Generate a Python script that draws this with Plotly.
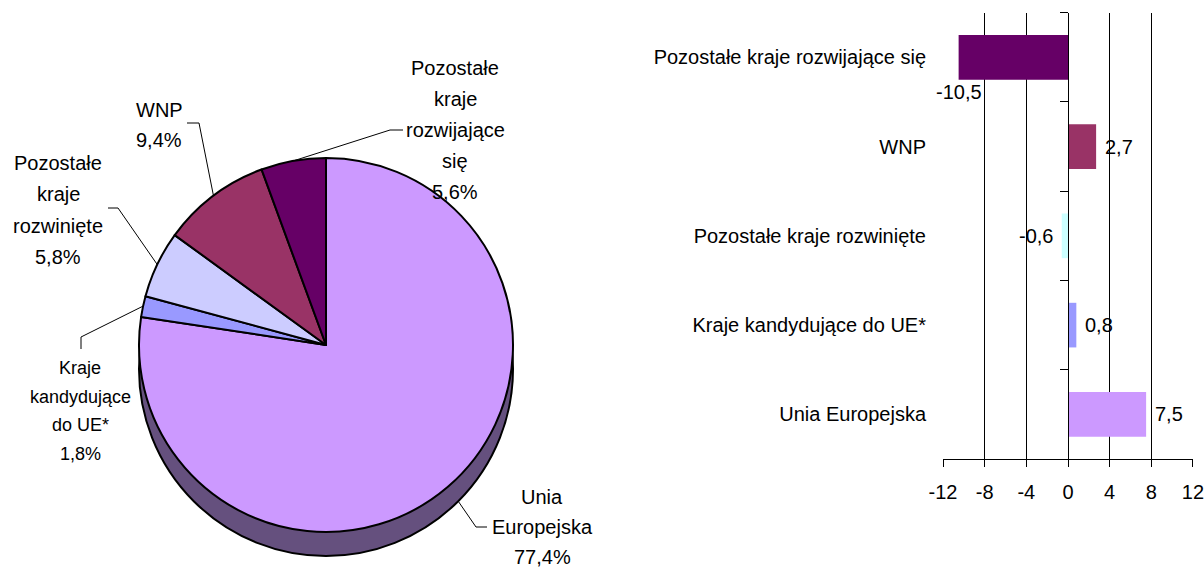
import math
import plotly.graph_objects as go

# ---------------- data ----------------
pie_categories = ["Unia Europejska", "Kraje kandydujące do UE*", "Pozostałe kraje rozwinięte",
                  "WNP", "Pozostałe kraje rozwijające się"]
pie_label_text = ["Unia<br>Europejska", "Kraje<br>kandydujące<br>do UE*", "Pozostałe<br>kraje<br>rozwinięte",
                  "WNP", "Pozostałe<br>kraje<br>rozwijające<br>się"]
pie_shares = [77.4, 1.8, 5.8, 9.4, 5.6]
pie_colors = ["#CC99FF", "#9999FF", "#CCCCFF", "#993366", "#660066"]

# bottom -> top
bar_categories = ["Unia Europejska", "Kraje kandydujące do UE*", "Pozostałe kraje rozwinięte",
                  "WNP", "Pozostałe kraje rozwijające się"]
bar_values = [7.5, 0.8, -0.6, 2.7, -10.5]
bar_colors = ["#CC99FF", "#9999FF", "#CCFFFF", "#993366", "#660066"]

x_tickvals = [-12, -8, -4, 0, 4, 8, 12]
x_ticktext = ["-12", "-8", "-4", "0", "4", "8", "12"]

# ---------------- layout helpers ----------------
W, H = 1204, 567
FONT = "Liberation Sans, Arial, sans-serif"
FS = 20


def px(x):
    return x / W


def py(y):
    return 1 - y / H


def fmt(v):
    return f"{v:.1f}".replace(".", ",")


# pie geometry (pixels)
CX, CY, R, DEPTH = 326, 345, 187, 24

fig = go.Figure()

# 3D side of the pie (darker disc shifted down)
fig.add_trace(go.Pie(
    values=[1], labels=["side"], sort=False, textinfo="none", hoverinfo="skip",
    marker=dict(colors=["#65507E"], line=dict(color="#000000", width=2)),
    domain=dict(x=[px(CX - R), px(CX + R)], y=[py(CY + R + DEPTH), py(CY - R + DEPTH)]),
    showlegend=False,
))

fig.add_trace(go.Pie(
    values=pie_shares, labels=pie_categories, sort=False, direction="clockwise", rotation=0,
    textinfo="none", hoverinfo="label+percent",
    marker=dict(colors=pie_colors, line=dict(color="#000000", width=2)),
    domain=dict(x=[px(CX - R), px(CX + R)], y=[py(CY + R), py(CY - R)]),
    showlegend=False,
))

# pie labels: (center x, first line y, line pitch, font size)
label_pos = {
    "Pozostałe kraje rozwijające się": (455, 68, 31, FS),
    "WNP": (159, 110, 30, FS),
    "Pozostałe kraje rozwinięte": (58, 163, 31.3, FS),
    "Kraje kandydujące do UE*": (80, 368, 28.7, 18),
    "Unia Europejska": (542, 497, 30, FS),
}
# leader: (angle on rim in degrees, on 3D side?, elbow point, end point)
leaders = {
    "Pozostałe kraje rozwijające się": (100, False, (390, 130), (403, 130)),
    "WNP": (127, False, (199, 123), (187, 123)),
    "Pozostałe kraje rozwinięte": (154.5, False, (118, 208), (108, 208)),
    "Kraje kandydujące do UE*": (168, False, (81, 337), (81, 349)),
    "Unia Europejska": (-45, True, (476, 527), (487, 527)),
}

annotations = []
shapes = []
for cat, txt, val in zip(pie_categories, pie_label_text, pie_shares):
    lx, ly, pitch, fs = label_pos[cat]
    lines = txt.split("<br>") + [f"{fmt(val)}%"]
    for i, line in enumerate(lines):
        annotations.append(dict(
            x=px(lx), y=py(ly + i * pitch), xref="paper", yref="paper", showarrow=False,
            text=line, align="center", xanchor="center", yanchor="middle",
            font=dict(family=FONT, size=fs, color="#000000"),
        ))
    ang, on_side, (ex, ey), (fx, fy) = leaders[cat]
    sx = CX + R * math.cos(math.radians(ang))
    sy = CY - R * math.sin(math.radians(ang)) + (DEPTH if on_side else 0)
    path = f"M {px(sx)},{py(sy)} L {px(ex)},{py(ey)} L {px(fx)},{py(fy)}"
    shapes.append(dict(type="path", path=path, xref="paper", yref="paper",
                       line=dict(color="#000000", width=1)))

# ---------------- bar chart ----------------
XD = [px(943), px(1193)]
YD = [py(459), py(12.7)]
yidx = list(range(len(bar_categories)))
XR = [-12, 12.0005]

fig.add_trace(go.Bar(
    x=bar_values, y=yidx, orientation="h", width=0.5,
    marker=dict(color=bar_colors, line=dict(width=0)),
    xaxis="x", yaxis="y", showlegend=False,
    hovertext=bar_categories, hoverinfo="text+x",
))
# helper trace bound to the zero-position axis (carries category tick marks)
fig.add_trace(go.Scatter(x=[None], y=[None], xaxis="x", yaxis="y2", showlegend=False,
                         hoverinfo="skip"))

for yi, v in zip(yidx, bar_values):
    if v < -10:
        kw = dict(xanchor="center", yshift=-35)
    elif v < 0:
        kw = dict(xanchor="right", xshift=-7)
    else:
        kw = dict(xanchor="left", xshift=7)
    annotations.append(dict(x=v, y=yi, xref="x", yref="y", showarrow=False,
                            text=fmt(v), yanchor="middle",
                            font=dict(family=FONT, size=FS, color="#000000"), **kw))

zero_pos = XD[0] + (XD[1] - XD[0]) * (0 - XR[0]) / (XR[1] - XR[0])

fig.update_layout(
    width=W, height=H,
    margin=dict(l=0, r=0, t=0, b=0, autoexpand=False),
    paper_bgcolor="white", plot_bgcolor="white",
    font=dict(family=FONT, size=FS, color="#000000"),
    xaxis=dict(domain=XD, range=XR, tickvals=x_tickvals, ticktext=x_ticktext,
               showgrid=True, gridcolor="#000000", gridwidth=1,
               zeroline=False, showline=True, linecolor="#000000", linewidth=1,
               ticks="outside", ticklen=7, tickcolor="#000000", ticklabelstandoff=8,
               tickfont=dict(family=FONT, size=FS, color="#000000"),
               ticklabeloverflow="allow",
               anchor="y", fixedrange=True, automargin=False),
    yaxis=dict(domain=YD, range=[-0.5, 4.5], tickvals=yidx, ticktext=bar_categories,
               showgrid=False, zeroline=False, showline=False,
               ticks="outside", ticklen=12, tickcolor="rgba(0,0,0,0)",
               tickfont=dict(family=FONT, size=FS, color="#000000"),
               anchor="x", fixedrange=True, automargin=False),
    yaxis2=dict(domain=YD, range=[-0.5, 4.5], overlaying="y", anchor="free", position=zero_pos,
                side="left", tickvals=[i - 0.5 for i in range(len(bar_categories) + 1)],
                showticklabels=False, showgrid=False, zeroline=False,
                showline=True, linecolor="#000000", linewidth=1,
                ticks="outside", ticklen=8, tickcolor="#000000", fixedrange=True,
                automargin=False),
    annotations=annotations,
    shapes=shapes,
)

fig.write_html(
    "out.html",
    config={"displayModeBar": False},
    post_script="document.body.style.margin='0';document.body.style.padding='0';"
                "document.body.style.overflow='hidden';",
)
